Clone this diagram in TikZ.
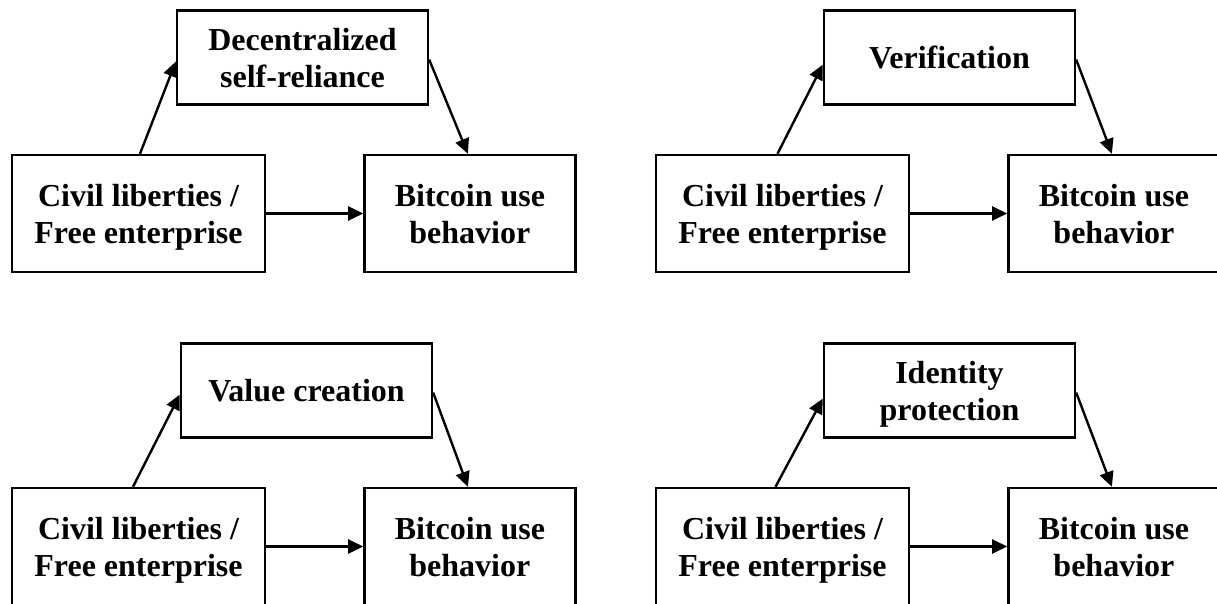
\documentclass[tikz,border=0pt]{standalone}
\usepackage{fontspec}
\setmainfont{Liberation Serif}
\usetikzlibrary{arrows.meta, positioning}

\begin{document}
\begin{tikzpicture}[
  box/.style={draw, line width=1.2pt, align=center, inner sep=0pt,
    minimum height=58.5pt, text depth=-3pt,
    font=\fontsize{16}{18.5}\selectfont\bfseries},
  link/.style={-{Triangle[length=7.5pt,width=7pt]}, line width=1.2pt}
]
\useasboundingbox (0,0) rectangle (608.5pt,-302pt);
\foreach \dx/\dy/\mx/\sx/\ty/\mtext/\p in {0pt/0pt/82pt/0.75pt/-2pt/{Decentralized\\self-reliance}/a,
    322pt/0pt/83.5pt/-2.5pt/-3.5pt/{Verification}/b,
    0pt/-166.5pt/84pt/-2.75pt/-2pt/{Value creation}/c,
    322pt/-166.5pt/83.5pt/-3.5pt/-4pt/{Identity\\protection}/d}{
\begin{scope}[shift={(\dx,\dy)}]
\node[box, minimum width=126.5pt] (civ\p) at (69.25pt,-106.75pt) {Civil liberties /\\Free enterprise};
\node[box, minimum width=105.5pt, right=48.5pt of civ\p] (beh\p) {Bitcoin use\\behavior};
\node[box, minimum width=125.5pt, minimum height=47pt, text depth=-6pt, above=24pt of civ\p, xshift=\mx] (med\p) {\mtext};
\draw[link] (civ\p) -- (beh\p);
\draw[link] ([xshift=\sx]civ\p.north) -- ([yshift=\ty]med\p.west);
\draw[link] ([yshift=-1pt]med\p.east) -- ([xshift=-1pt]beh\p.north);
\end{scope}
}
\end{tikzpicture}
\end{document}
